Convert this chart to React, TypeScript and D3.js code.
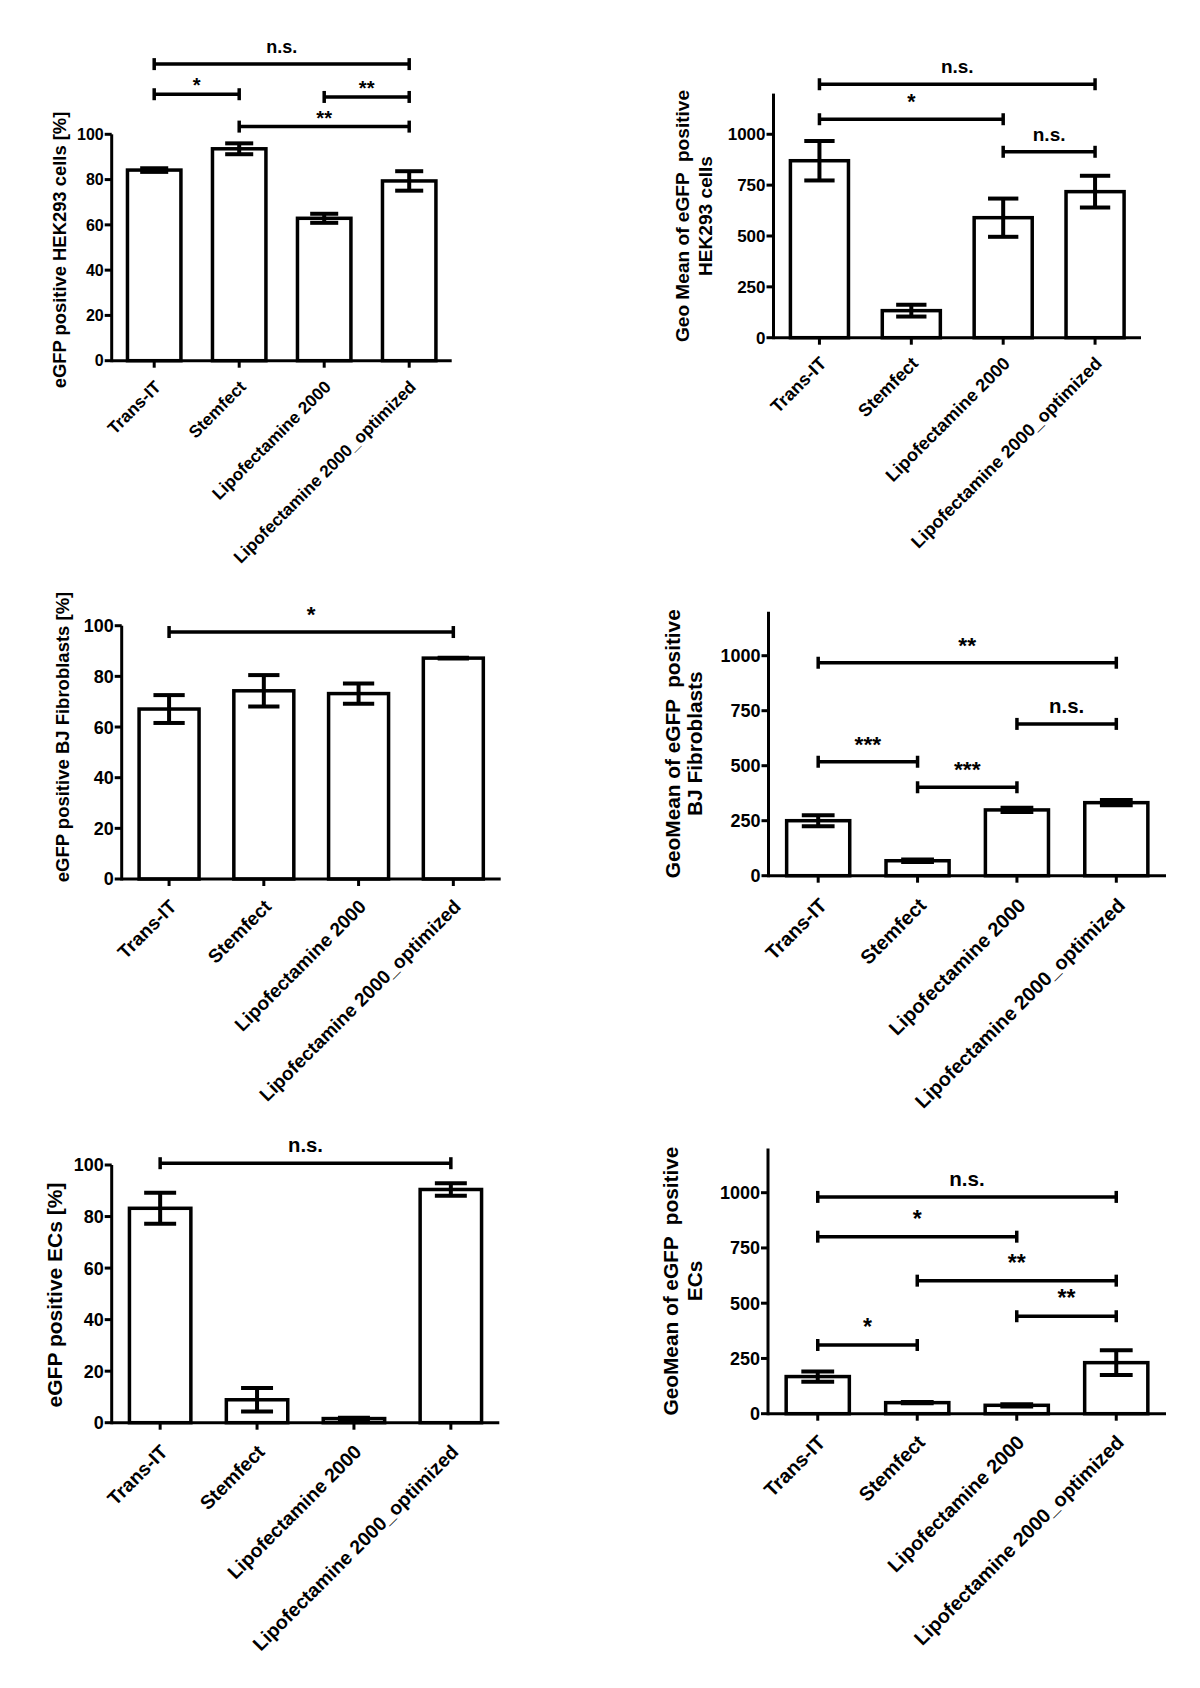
import React from "react";
import * as d3 from "d3";

// ---------- data ----------
const categories = ["Trans-IT", "Stemfect", "Lipofectamine 2000", "Lipofectamine 2000_optimized"];

const percentTicks = [0, 20, 40, 60, 80, 100];
const geoTicks = [0, 250, 500, 750, 1000];

const hekPctMean = [84.2, 93.6, 62.9, 79.4];
const hekPctErr = [0.8, 2.4, 2.0, 4.3];
const hekGeoMean = [870, 133, 590, 718];
const hekGeoErr = [97, 29, 94, 78];

const bjPctMean = [67.1, 74.3, 73.2, 87.2];
const bjPctErr = [5.5, 6.2, 4.0, 0.15];
const bjGeoMean = [250, 68, 299, 332];
const bjGeoErr = [25, 6, 10, 12];

const ecPctMean = [83.2, 8.9, 1.6, 90.5];
const ecPctErr = [6.0, 4.6, 0.3, 2.4];
const ecGeoMean = [168, 50, 38, 231];
const ecGeoErr = [23, 3, 5, 56];

// brackets: [fromIndex, toIndex, height (data units), label]
const hekPctBrackets: [number, number, number, string][] = [
  [0, 3, 131, "n.s."],
  [0, 1, 117.7, "*"],
  [2, 3, 116.5, "**"],
  [1, 3, 103.4, "**"],
];
const hekGeoBrackets: [number, number, number, string][] = [
  [0, 3, 1246, "n.s."],
  [0, 2, 1074, "*"],
  [2, 3, 914, "n.s."],
];
const bjPctBrackets: [number, number, number, string][] = [[0, 3, 97.5, "*"]];
const bjGeoBrackets: [number, number, number, string][] = [
  [0, 3, 968, "**"],
  [2, 3, 690, "n.s."],
  [0, 1, 518, "***"],
  [1, 2, 402, "***"],
];
const ecPctBrackets: [number, number, number, string][] = [[0, 3, 100.7, "n.s."]];
const ecGeoBrackets: [number, number, number, string][] = [
  [0, 3, 981, "n.s."],
  [0, 2, 801, "*"],
  [1, 3, 602, "**"],
  [2, 3, 441, "**"],
  [0, 1, 311, "*"],
];

const hekPctLabel = ["eGFP positive HEK293 cells [%]"];
const hekGeoLabel = ["Geo Mean of eGFP  positive", "HEK293 cells"];
const bjPctLabel = ["eGFP positive BJ Fibroblasts [%]"];
const bjGeoLabel = ["GeoMean of eGFP  positive", "BJ Fibroblasts"];
const ecPctLabel = ["eGFP positive ECs [%]"];
const ecGeoLabel = ["GeoMean of eGFP  positive", "ECs"];

// ---------- layout ----------
type Layout = {
  x0: number; x1: number; yBottom: number; yTop: number; yMax: number;
  tickFont: number; catFont: number; labelFont: number; sigFont: number;
  labelX: number[]; labelY: number; catDx: number; catDy: number; starShift: number;
};

const FONT = "'Liberation Sans', Arial, Helvetica, sans-serif";

function Panel(props: {
  mean: number[]; err: number[]; ticks: number[];
  brackets: [number, number, number, string][]; ylabel: string[]; L: Layout;
}) {
  const { mean, err, ticks, brackets, ylabel, L } = props;
  const x = d3.scaleBand<string>().domain(categories).range([L.x0, L.x1]).padding(0);
  const y = d3.scaleLinear().domain([0, L.yMax]).range([L.yBottom, L.yTop]);
  const bw = x.bandwidth();
  const barStroke = 3.5;
  const barW = bw * 0.67 - barStroke;
  const capW = bw * 0.33;
  const cx = (c: string) => (x(c) as number) + bw / 2;
  const tickLen = 7;

  return (
    <g fontFamily={FONT} fontWeight="bold" fill="#000">
      {/* bars */}
      {categories.map((c, i) => (
        <rect key={"b" + i} x={cx(c) - barW / 2} y={y(mean[i])} width={barW}
          height={y(0) - y(mean[i])} fill="#fff" stroke="#000" strokeWidth={barStroke} />
      ))}
      {/* error bars */}
      {categories.map((c, i) => {
        const hi = y(mean[i] + err[i]);
        const lo = y(mean[i] - err[i]);
        const xc = cx(c);
        return (
          <g key={"e" + i} stroke="#000" strokeWidth={4}>
            <line x1={xc} x2={xc} y1={hi} y2={lo} />
            <line x1={xc - capW / 2} x2={xc + capW / 2} y1={hi} y2={hi} />
            <line x1={xc - capW / 2} x2={xc + capW / 2} y1={lo} y2={lo} />
          </g>
        );
      })}
      {/* axes */}
      <line x1={L.x0} x2={L.x0} y1={y(L.yMax)} y2={y(0) + 1.5} stroke="#000" strokeWidth={3} />
      <line x1={L.x0} x2={L.x1} y1={y(0)} y2={y(0)} stroke="#000" strokeWidth={3} />
      {ticks.map((t) => (
        <g key={"yt" + t}>
          <line x1={L.x0 - tickLen} x2={L.x0} y1={y(t)} y2={y(t)} stroke="#000" strokeWidth={3} />
          <text x={L.x0 - tickLen - 1} y={y(t)} dy="0.36em" textAnchor="end" fontSize={L.tickFont}>{t}</text>
        </g>
      ))}
      {categories.map((c, i) => (
        <g key={"xt" + i}>
          <line x1={cx(c)} x2={cx(c)} y1={y(0)} y2={y(0) + tickLen} stroke="#000" strokeWidth={3} />
          <text transform={`translate(${cx(c) + L.catDx},${y(0) + L.catDy}) rotate(-45)`}
            textAnchor="end" dy="0.35em" fontSize={L.catFont}>{c}</text>
        </g>
      ))}
      {/* y label */}
      {ylabel.map((s, k) => (
        <text key={"yl" + k} transform={`translate(${L.labelX[k]},${L.labelY}) rotate(-90)`}
          textAnchor="middle" dy="0.35em" fontSize={L.labelFont} style={{ whiteSpace: "pre" }}>{s}</text>
      ))}
      {/* significance brackets */}
      {brackets.map(([a, b, v, lab], k) => {
        const xa = cx(categories[a]);
        const xb = cx(categories[b]);
        const yy = y(v);
        const isStar = lab.indexOf("*") >= 0;
        return (
          <g key={"s" + k}>
            <g stroke="#000" strokeWidth={3.5}>
              <line x1={xa} x2={xb} y1={yy} y2={yy} />
              <line x1={xa} x2={xa} y1={yy - 6} y2={yy + 6} />
              <line x1={xb} x2={xb} y1={yy - 6} y2={yy + 6} />
            </g>
            <text x={(xa + xb) / 2} y={yy - 11 + (isStar ? L.starShift + 1 : 0)} textAnchor="middle"
              fontSize={isStar ? L.sigFont * 1.12 : L.sigFont}>{lab}</text>
          </g>
        );
      })}
    </g>
  );
}

const L1: Layout = { x0: 111.7, x1: 451.7, yBottom: 360.7, yTop: 134.3, yMax: 100, tickFont: 16, catFont: 17.2, labelFont: 18.4, sigFont: 18, labelX: [60], labelY: 250, catDx: 3.5, catDy: 23, starShift: 8 };
const L2: Layout = { x0: 773.5, x1: 1141, yBottom: 337.7, yTop: 93.6, yMax: 1200, tickFont: 17, catFont: 18, labelFont: 19.1, sigFont: 19, labelX: [682.6, 705], labelY: 216, catDx: 3.5, catDy: 22.4, starShift: 0 };
const L3: Layout = { x0: 121.7, x1: 500.7, yBottom: 879, yTop: 625.7, yMax: 100, tickFont: 18, catFont: 19, labelFont: 18.5, sigFont: 20, labelX: [63], labelY: 737, catDx: 4, catDy: 24, starShift: 0 };
const L4: Layout = { x0: 768.5, x1: 1166, yBottom: 875.7, yTop: 611.7, yMax: 1200, tickFont: 18, catFont: 19.8, labelFont: 20.8, sigFont: 20.4, labelX: [672.3, 694.7], labelY: 743.7, catDx: 5, catDy: 26, starShift: 0 };
const L5: Layout = { x0: 111.7, x1: 499.3, yBottom: 1422.7, yTop: 1165, yMax: 100, tickFont: 18, catFont: 19.4, labelFont: 21, sigFont: 20.3, labelX: [55], labelY: 1295, catDx: 4, catDy: 25.6, starShift: 0 };
const L6: Layout = { x0: 768, x1: 1166, yBottom: 1413.7, yTop: 1148.5, yMax: 1200, tickFont: 18, catFont: 19.8, labelFont: 20.8, sigFont: 20.6, labelX: [670.6, 694.7], labelY: 1281, catDx: 4, catDy: 25, starShift: 0 };

export default function App() {
  return (
    <svg width={1200} height={1688} viewBox="0 0 1200 1688"
      style={{ position: "absolute", left: 0, top: 0, background: "#fff", display: "block" }}>
      <rect x={0} y={0} width={1200} height={1688} fill="#fff" />
      <Panel mean={hekPctMean} err={hekPctErr} ticks={percentTicks} brackets={hekPctBrackets} ylabel={hekPctLabel} L={L1} />
      <Panel mean={hekGeoMean} err={hekGeoErr} ticks={geoTicks} brackets={hekGeoBrackets} ylabel={hekGeoLabel} L={L2} />
      <Panel mean={bjPctMean} err={bjPctErr} ticks={percentTicks} brackets={bjPctBrackets} ylabel={bjPctLabel} L={L3} />
      <Panel mean={bjGeoMean} err={bjGeoErr} ticks={geoTicks} brackets={bjGeoBrackets} ylabel={bjGeoLabel} L={L4} />
      <Panel mean={ecPctMean} err={ecPctErr} ticks={percentTicks} brackets={ecPctBrackets} ylabel={ecPctLabel} L={L5} />
      <Panel mean={ecGeoMean} err={ecGeoErr} ticks={geoTicks} brackets={ecGeoBrackets} ylabel={ecGeoLabel} L={L6} />
    </svg>
  );
}
